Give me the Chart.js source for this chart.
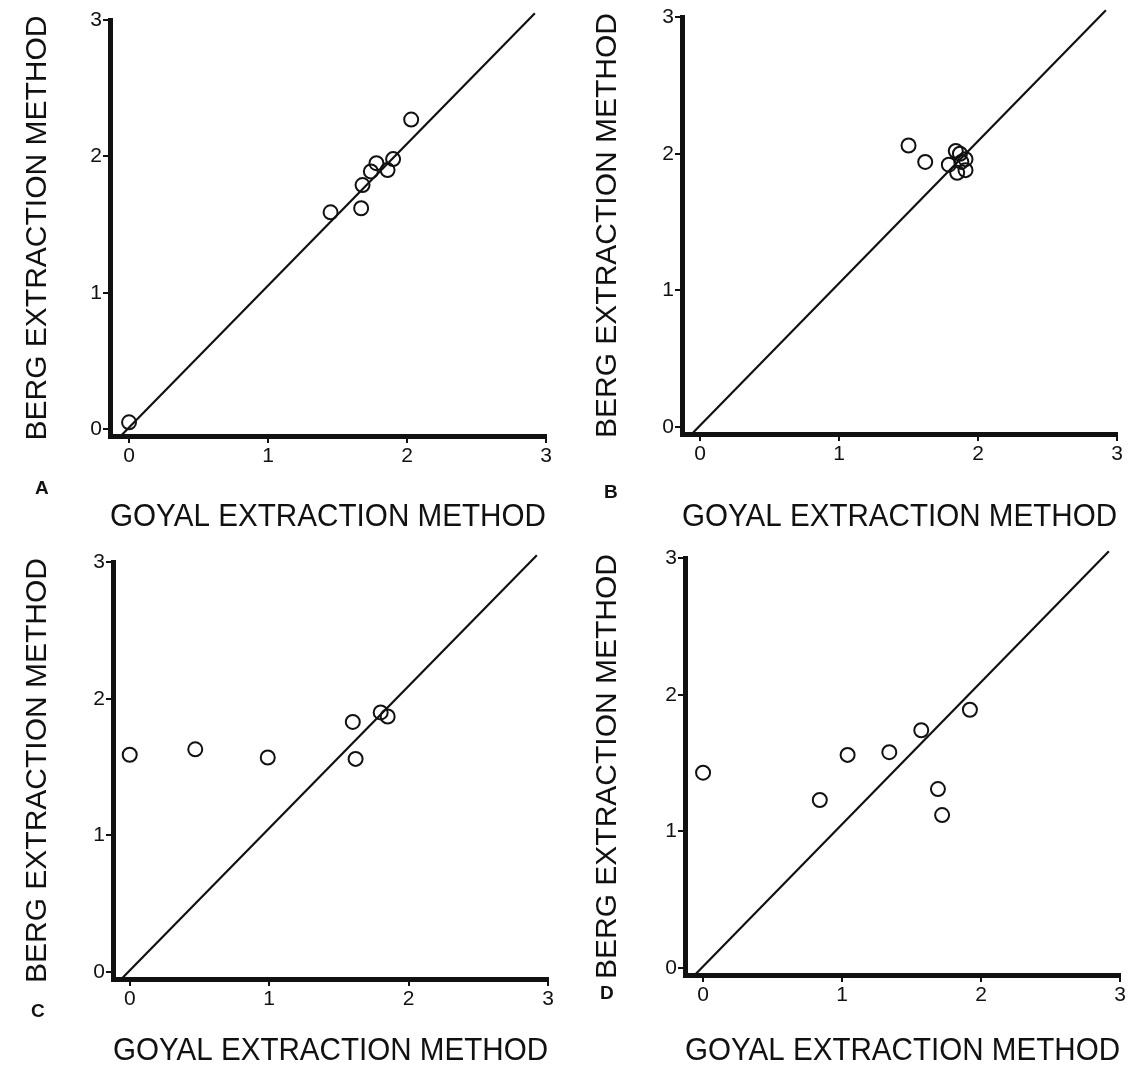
<!DOCTYPE html>
<html>
<head>
<meta charset="utf-8">
<title>Berg vs Goyal extraction method</title>
<script src="https://cdn.jsdelivr.net/npm/chart.js@4.4.1/dist/chart.umd.min.js"></script>
<style>
  body { margin: 0; background: #fff; }
  #page { position: relative; width: 1140px; height: 1074px; }
  .panel { position: absolute; width: 570px; height: 537px; }
  .letter { position: absolute; font: bold 19px 'Liberation Sans', Arial, sans-serif; color: #111; }
</style>
</head>
<body>
<div id="page">
  <div class="panel" style="left:0;top:0"><canvas id="chartA" width="570" height="537"></canvas></div>
  <div class="panel" style="left:570px;top:0"><canvas id="chartB" width="570" height="537"></canvas></div>
  <div class="panel" style="left:0;top:537px"><canvas id="chartC" width="570" height="537"></canvas></div>
  <div class="panel" style="left:570px;top:537px"><canvas id="chartD" width="570" height="537"></canvas></div>
  <div class="letter" style="left:35px;top:477px">A</div>
  <div class="letter" style="left:604px;top:481px">B</div>
  <div class="letter" style="left:31px;top:1000px">C</div>
  <div class="letter" style="left:600px;top:982px">D</div>
</div>
<script>
// --- DATA ---
const tickValues = [0, 1, 2, 3];
const xTitle = 'GOYAL EXTRACTION METHOD';
const yTitle = 'BERG EXTRACTION METHOD';

const goyalA = [0, 1.45, 1.67, 1.68, 1.74, 1.78, 1.86, 1.90, 2.03];
const bergA = [0.05, 1.59, 1.62, 1.79, 1.89, 1.95, 1.90, 1.98, 2.27];

const goyalB = [1.50, 1.62, 1.79, 1.84, 1.87, 1.91, 1.85, 1.91, 1.88];
const bergB = [2.06, 1.94, 1.92, 2.02, 2.00, 1.96, 1.86, 1.88, 1.94];

const goyalC = [0, 0.47, 0.99, 1.60, 1.62, 1.80, 1.85];
const bergC = [1.59, 1.63, 1.57, 1.83, 1.56, 1.90, 1.87];

const goyalD = [0, 0.84, 1.04, 1.34, 1.57, 1.69, 1.72, 1.92];
const bergD = [1.43, 1.23, 1.56, 1.58, 1.74, 1.31, 1.12, 1.89];

// line of identity as drawn in the figure
const lineGoyal = [-0.06, 2.92];
const lineBerg = [-0.05, 3.05];

// --- LAYOUT (chart area inside each 570x537 panel) ---
const panels = [
    { id: 'chartA', xs: goyalA, ys: bergA, left: 110, right: 546, top: 20, bottom: 436, xMin: -0.137, yMin: -0.05, titleY: 517 },
    { id: 'chartB', xs: goyalB, ys: bergB, left: 112, right: 547, top: 17, bottom: 434, xMin: -0.13, yMin: -0.05, titleY: 517 },
    { id: 'chartC', xs: goyalC, ys: bergC, left: 113, right: 548, top: 25, bottom: 442, xMin: -0.12, yMin: -0.05, titleY: 514 },
    { id: 'chartD', xs: goyalD, ys: bergD, left: 115, right: 550, top: 21, bottom: 438, xMin: -0.13, yMin: -0.05, titleY: 514 }
];

const fontFamily = "'Liberation Sans', Arial, sans-serif";
const ink = '#111';

const toPoints = (xs, ys) => xs.map((x, i) => ({ x: x, y: ys[i] }));

const fixedTicks = (scale) => {
    scale.ticks = tickValues.map(v => ({ value: v }));
};

const axisOpts = (min, max, titleText, titleFont, titlePad) => ({
    type: 'linear',
    min: min,
    max: max,
    afterBuildTicks: fixedTicks,
    border: { display: true, color: ink, width: 5 },
    grid: { display: true, drawOnChartArea: false, drawTicks: true, tickLength: 7, lineWidth: 2, color: ink },
    ticks: {
        autoSkip: false,
        padding: 1,
        color: ink,
        font: { family: fontFamily, size: 21 }
    },
    title: {
        display: true,
        text: titleText,
        color: ink,
        font: { family: fontFamily, size: titleFont },
        padding: titlePad
    }
});

const H = 537, W = 570;

panels.forEach(p => {
    const ctx = document.getElementById(p.id).getContext('2d');
    const xTitleLine = 32 * 1.2;
    const xAxis = axisOpts(p.xMin, 3, xTitle, 32, { top: 0, bottom: H - p.titleY - xTitleLine / 2 });
    xAxis.afterFit = (s) => { s.height = H - p.bottom; };
    const yAxis = axisOpts(p.yMin, 3, yTitle, 30, { top: 20, bottom: 0 });
    yAxis.afterFit = (s) => { s.width = p.left; };

    new Chart(ctx, {
        type: 'scatter',
        data: {
            datasets: [
                {
                    data: toPoints(lineGoyal, lineBerg),
                    showLine: true,
                    borderColor: ink,
                    borderWidth: 2.2,
                    pointRadius: 0,
                    clip: false
                },
                {
                    data: toPoints(p.xs, p.ys),
                    pointStyle: 'circle',
                    pointRadius: 7,
                    borderWidth: 2,
                    borderColor: ink,
                    backgroundColor: 'rgba(0,0,0,0)',
                    clip: false
                }
            ]
        },
        options: {
            responsive: false,
            animation: false,
            layout: { padding: { left: 0, right: W - p.right, top: p.top, bottom: 0 } },
            plugins: { legend: { display: false }, tooltip: { enabled: false } },
            scales: { x: xAxis, y: yAxis }
        }
    });
});
</script>
</body>
</html>
